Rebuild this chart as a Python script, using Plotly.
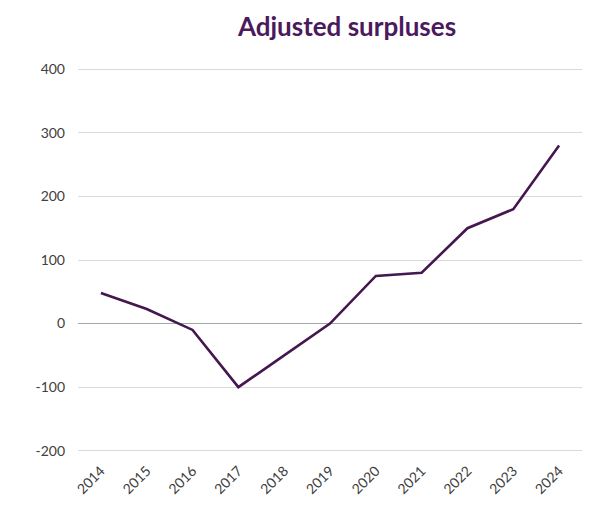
import plotly.graph_objects as go

years = ["2014", "2015", "2016", "2017", "2018", "2019",
         "2020", "2021", "2022", "2023", "2024"]
surplus = [48, 23, -10, -100, -50, 0, 75, 80, 150, 180, 280]
y_ticks = [-200, -100, 0, 100, 200, 300, 400]
y_tick_text = [str(v).replace("\u2212", "-") for v in y_ticks]

LINE = "#44174f"
TITLE = "#4a1a5c"
TICK_FONT = dict(family="Lato, 'Noto Sans', sans-serif", size=14, color="#404040")

fig = go.Figure()
fig.add_trace(go.Scatter(
    x=years, y=surplus, mode="lines",
    line=dict(color=LINE, width=2.6),
    hoverinfo="x+y",
))

fig.update_layout(
    width=591, height=506,
    margin=dict(l=78, r=9, t=68, b=52),
    paper_bgcolor="white", plot_bgcolor="white",
    showlegend=False,
    title=dict(
        text="<b>Adjusted surpluses</b>",
        x=347 / 591, xanchor="center", xref="container",
        y=1 - 27 / 506, yanchor="middle", yref="container",
        font=dict(family="Lato, 'Noto Sans', sans-serif", size=26, color=TITLE),
    ),
    xaxis=dict(
        type="category", range=[-0.5, len(years) - 0.5],
        showgrid=False, zeroline=False, showline=False,
        ticks="", tickangle=-45, tickfont=TICK_FONT, ticklabelstandoff=7,
    ),
    yaxis=dict(
        range=[-202, 402], tickvals=y_ticks, ticktext=y_tick_text,
        showgrid=True, gridcolor="#d9d9d9", gridwidth=1,
        zeroline=True, zerolinecolor="#a6a6a6", zerolinewidth=1,
        showline=False, ticks="", tickfont=TICK_FONT, ticklabelstandoff=12,
    ),
)

fig.write_html("out.html")
